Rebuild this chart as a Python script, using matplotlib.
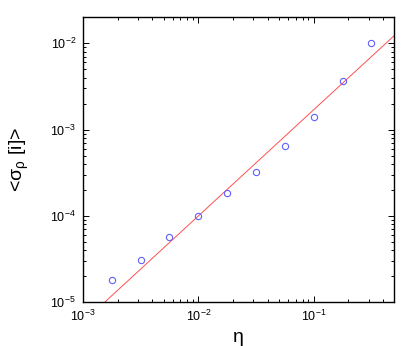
import matplotlib
matplotlib.use('Agg')
import matplotlib.pyplot as plt
import numpy as np

# data
eta = [0.00178, 0.00316, 0.00562, 0.01, 0.0178, 0.0316, 0.0562, 0.1, 0.178, 0.316]
sigma = [1.83e-5, 3.12e-5, 5.66e-5, 9.9e-5, 1.86e-4, 3.2e-4, 6.4e-4, 1.39e-3, 3.63e-3, 1.0e-2]

# power law fit drawn in red: sigma = fitA * (eta/0.01)**fitB
fitA = 1.0e-4
fitB = 1.23

plt.rcParams['font.family'] = ['Liberation Sans', 'DejaVu Sans']
plt.rcParams['mathtext.fontset'] = 'custom'
plt.rcParams['mathtext.rm'] = 'Liberation Sans'
plt.rcParams['mathtext.it'] = 'Liberation Sans'

fig = plt.figure(figsize=(4.15, 3.46), dpi=100)
ax = fig.add_axes([83/415, 1-302.3/346, (394.3-83)/415, (302.3-17.3)/346])

xs = np.logspace(-3, np.log10(0.5), 200)
ax.plot(xs, fitA*(xs/0.01)**fitB, color='#ff5050', lw=0.7)
ax.plot(eta, sigma, 'o', mfc='none', mec='#6060ff', ms=4.5, mew=0.8)

ax.set_xscale('log')
ax.set_yscale('log')
ax.set_xlim(1e-3, 0.5)
ax.set_ylim(1e-5, 0.02)

ax.tick_params(which='both', direction='in', top=True, right=True, labelsize=9, width=0.7)
ax.tick_params(which='major', length=4, pad=5)
ax.tick_params(which='minor', length=2)
for s in ax.spines.values():
    s.set_linewidth(1.0)

ax.set_xlabel('η', fontsize=14, labelpad=3)
ax.set_ylabel('<σ$_{ρ}$ [i]>', fontsize=14, labelpad=14)

fig.savefig('out.png', dpi=100)
